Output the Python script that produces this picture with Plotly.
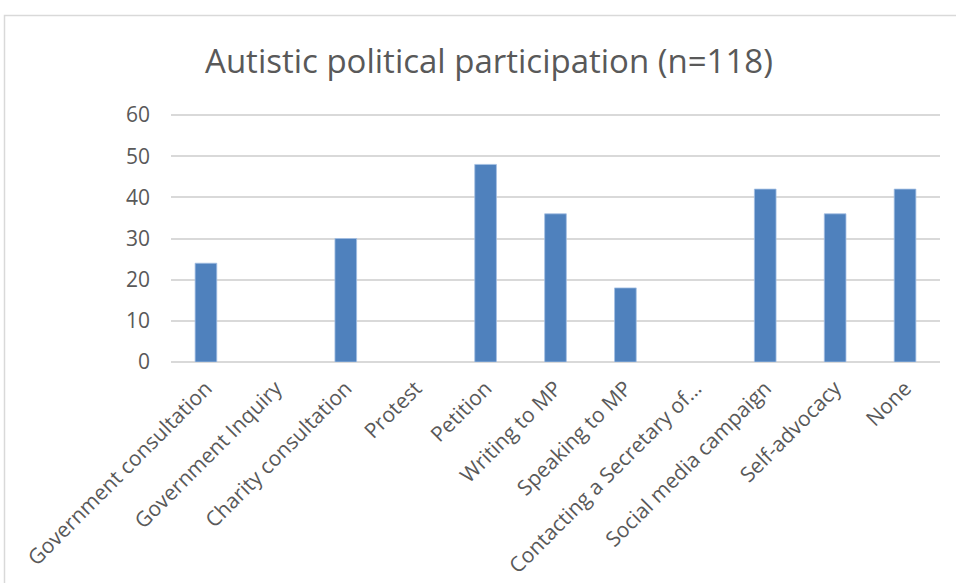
import plotly.graph_objects as go

categories = [
    "Government consultation",
    "Government Inquiry",
    "Charity consultation",
    "Protest",
    "Petition",
    "Writing to MP",
    "Speaking to MP",
    "Contacting a Secretary of…",
    "Social media campaign",
    "Self-advocacy",
    "None",
]
values = [24, 0, 30, 0, 48, 36, 18, 0, 42, 36, 42]
y_ticks = [0, 10, 20, 30, 40, 50, 60]

edge_widths = [0.8 if v > 0 else 0 for v in values]

fig = go.Figure(
    go.Bar(
        x=categories,
        y=values,
        marker=dict(color="#4f81bd", line=dict(color="#a3bfe3", width=edge_widths)),
    )
)

W, H = 956, 583
ml, mr, mt, mb = 171, 16, 114, 221
pw = W - ml - mr
ph = H - mt - mb

def px_x(p):
    return (p - ml) / pw

def px_y(p):
    return (H - mb - p) / ph

FONT = "Open Sans"

fig.update_layout(
    width=W,
    height=H,
    margin=dict(l=ml, r=mr, t=mt, b=mb),
    paper_bgcolor="white",
    plot_bgcolor="white",
    bargap=0.69,
    showlegend=False,
    font=dict(family=FONT, color="#595959"),
    title=dict(
        text="Autistic political participation (n=118)",
        x=489 / W,
        xanchor="center",
        xref="container",
        y=(H - 61) / H,
        yanchor="middle",
        font=dict(family=FONT, size=33, color="#595959"),
    ),
    xaxis=dict(
        tickangle=-45,
        tickfont=dict(family=FONT, size=21, color="#595959"),
        showgrid=False,
        showline=False,
        ticks="",
        ticklabelstandoff=9,
        automargin=False,
    ),
    yaxis=dict(
        range=[0, 60.25],
        tickvals=y_ticks,
        tickfont=dict(family=FONT, size=21, color="#595959"),
        showgrid=True,
        gridcolor="#d9d9d9",
        gridwidth=2,
        zeroline=True,
        zerolinecolor="#d9d9d9",
        zerolinewidth=2,
        showline=False,
        ticks="",
        ticklabelstandoff=20,
        automargin=False,
    ),
    shapes=[
        dict(
            type="rect",
            xref="paper",
            yref="paper",
            x0=px_x(4.5),
            x1=px_x(1200),
            y0=px_y(900),
            y1=px_y(15.5),
            line=dict(color="#d9d9d9", width=1.5),
            fillcolor="rgba(0,0,0,0)",
            layer="below",
        )
    ],
)

fig.write_html("out.html")
